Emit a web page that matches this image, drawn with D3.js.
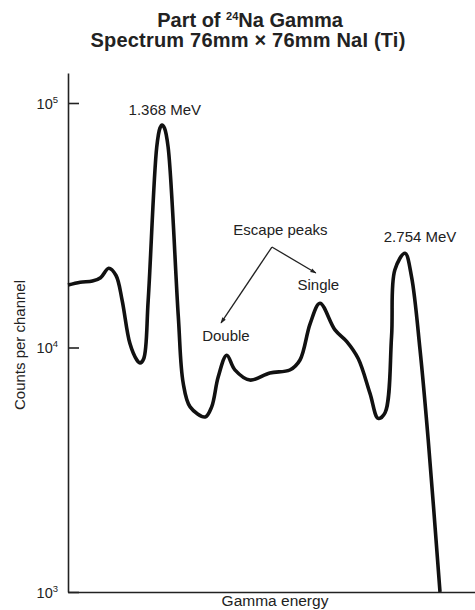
<!DOCTYPE html>
<html>
<head>
<meta charset="utf-8">
<script src="https://cdn.jsdelivr.net/npm/d3@7"></script>
<style>
  body { margin: 0; background: #fff; }
  text { font-family: "Liberation Sans", Arial, Helvetica, sans-serif; fill: #222; }
</style>
</head>
<body>
<div id="wrapper"></div>
<script>
// channel (0-100 across the energy axis) and counts per channel
const channels = [0, 3, 6, 8, 10, 11.8, 13.3, 15.2, 16.9, 17.7, 18.6, 19.7, 21.8, 22.6, 23.1, 23.7, 24.6,
  27.1, 28.3, 30.0, 33.7, 35.3, 36.9, 39.0, 41.0, 44.7, 49.6, 54.5, 57.0, 59.5, 61.9, 65.6, 68.5, 71.3,
  74.2, 76.2, 77.9, 79.5, 80.3, 82.8, 84.4, 86.5, 88.5, 91.4];
const counts = [18000, 18500, 18700, 19300, 21100, 19700, 15600, 10400, 8900, 8650, 9000, 15600, 66000, 79000, 81300, 79000, 66000,
  13400, 7160, 5720, 5200, 5720, 7570, 9300, 8100, 7360, 7870, 8090, 8890, 12530, 15170, 11800, 10570, 9010,
  6490, 5130, 5410, 11100, 20750, 24300, 19500, 9770, 4200, 1000];

const yTicks = [1e3, 1e4, 1e5];
const yTickExp = ["3", "4", "5"];

// labels placed at (channel, counts)
const peakLabels = [
  { text: "1.368 MeV", ch: 23.8, c: 89300 },
  { text: "2.754 MeV", ch: 86.5, c: 27000 }
];
const escapeLabels = [
  { text: "Escape peaks", ch: 52.2, c: 28800 },
  { text: "Single", ch: 61.5, c: 17200 },
  { text: "Double", ch: 38.8, c: 10630 }
];
// arrows from the "Escape peaks" label: [fromCh, fromC, toCh, toC]
const arrows = [
  [50.1, 25760, 37.6, 12600],
  [50.1, 25760, 60.9, 20180]
];

const dims = {
  width: 475,
  height: 610,
  margin: { top: 73, right: 0, bottom: 18, left: 68 }
};
dims.boundedWidth = dims.width - dims.margin.left - dims.margin.right;
dims.boundedHeight = dims.height - dims.margin.top - dims.margin.bottom;

const svg = d3.select("#wrapper").append("svg")
  .attr("width", dims.width)
  .attr("height", dims.height);

// title
const title = svg.append("text")
  .attr("text-anchor", "middle")
  .style("font-weight", "bold")
  .style("font-size", "20px");
const t1 = title.append("tspan").attr("x", 250).attr("y", 27);
t1.append("tspan").text("Part of ");
t1.append("tspan").text("24").style("font-size", "11px").attr("dy", -7);
t1.append("tspan").text("Na Gamma").attr("dy", 7);
title.append("tspan").attr("x", 248).attr("y", 47)
  .style("letter-spacing", "0.2px")
  .text("Spectrum 76mm \u00d7 76mm NaI (Ti)");

const bounds = svg.append("g")
  .attr("transform", `translate(${dims.margin.left},${dims.margin.top})`);

const xScale = d3.scaleLinear()
  .domain([0, 100])
  .range([0, dims.boundedWidth]);

// axis line runs a little above 10^5
const yTop = Math.pow(10, 5 + 30 / 244.5);
const yScale = d3.scaleLog()
  .domain([1e3, yTop])
  .range([dims.boundedHeight, 0]);

// y axis
const yAxis = bounds.append("g")
  .call(d3.axisLeft(yScale).tickValues(yTicks).tickFormat("").tickSizeInner(-11).tickSizeOuter(0));
yAxis.select(".domain").attr("stroke", "#222").attr("stroke-width", 1.6);
yAxis.selectAll(".tick line").attr("stroke", "#222").attr("stroke-width", 1.6);
yAxis.selectAll(".tick").each(function (d, i) {
  const t = d3.select(this).append("text")
    .attr("x", -10)
    .attr("y", 5)
    .attr("text-anchor", "end")
    .style("font-size", "14.5px");
  t.append("tspan").text("10");
  t.append("tspan").text(yTickExp[i]).style("font-size", "9.5px").attr("dy", -6);
});

// x axis (plain baseline)
const xAxis = bounds.append("g")
  .attr("transform", `translate(0,${dims.boundedHeight})`)
  .call(d3.axisBottom(xScale).ticks(0).tickSizeOuter(0));
xAxis.select(".domain").attr("stroke", "#222").attr("stroke-width", 1.6);

// spectrum
const line = d3.line()
  .x((d, i) => xScale(channels[i]))
  .y((d) => yScale(d))
  .curve(d3.curveCatmullRom.alpha(0.5));

bounds.append("path")
  .attr("d", line(counts))
  .attr("fill", "none")
  .attr("stroke", "#111")
  .attr("stroke-width", 3.6)
  .attr("stroke-linejoin", "round");

// arrow heads
svg.append("defs").append("marker")
  .attr("id", "head")
  .attr("viewBox", "0 0 10 10")
  .attr("refX", 9).attr("refY", 5)
  .attr("markerWidth", 8).attr("markerHeight", 6)
  .attr("markerUnits", "userSpaceOnUse")
  .attr("orient", "auto")
  .append("path")
  .attr("d", "M0,1.5 L10,5 L0,8.5 z")
  .attr("fill", "#222");

bounds.selectAll(".arrow")
  .data(arrows)
  .join("line")
  .attr("class", "arrow")
  .attr("x1", d => xScale(d[0])).attr("y1", d => yScale(d[1]))
  .attr("x2", d => xScale(d[2])).attr("y2", d => yScale(d[3]))
  .attr("stroke", "#222")
  .attr("stroke-width", 1.3)
  .attr("marker-end", "url(#head)");

bounds.selectAll(".lbl")
  .data(peakLabels.concat(escapeLabels))
  .join("text")
  .attr("class", "lbl")
  .attr("x", d => xScale(d.ch))
  .attr("y", d => yScale(d.c))
  .attr("text-anchor", "middle")
  .style("font-size", "15px")
  .text(d => d.text);

// axis titles
svg.append("text")
  .attr("transform", "translate(25,345) rotate(-90)")
  .attr("text-anchor", "middle")
  .style("font-size", "15px")
  .text("Counts per channel");

svg.append("text")
  .attr("x", 275)
  .attr("y", 606)
  .attr("text-anchor", "middle")
  .style("font-size", "15.5px")
  .text("Gamma energy");
</script>
</body>
</html>
